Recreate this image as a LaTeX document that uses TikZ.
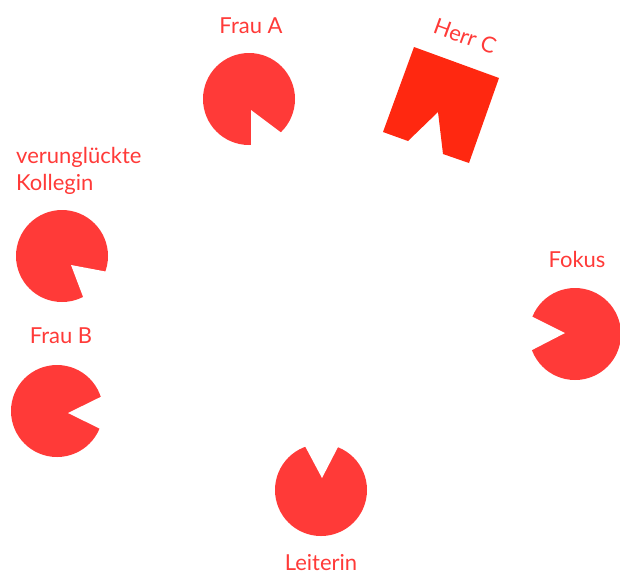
\documentclass[tikz,border=0pt]{standalone}
\usepackage{fontspec}
\setmainfont{Lato}
\usepackage{tikz}
\usetikzlibrary{positioning}
\definecolor{pacred}{RGB}{255,58,56}
\definecolor{boxred}{RGB}{255,40,16}

\begin{document}
\begin{tikzpicture}[
  x=1pt, y=-1pt,
  person/.style={circle, fill=pacred, minimum size=92pt, inner sep=0pt},
  gap/.style={fill=white},
  lbl/.style={text=pacred, inner sep=0pt, font=\fontsize{22}{27}\selectfont}
]
  \useasboundingbox (0,0) rectangle (620,574);

  \node[person] (frauA) at (249,99) {};
  \node[person] (kollegin) at (62,256) {};
  \node[person] (frauB) at (57,411) {};
  \node[person] (leiterin) at (321,490) {};
  \node[person] (fokus) at (575,334) {};

  \fill[gap] (251,110) -- (251,180) -- (307,152) -- cycle;
  \fill[gap] (71,265) -- (140,278) -- (96,331) -- cycle;
  \fill[gap] (68,413) -- (131,382) -- (131,444) -- cycle;
  \fill[gap] (322,478) -- (289,416) -- (354,416) -- cycle;
  \fill[gap] (565,333) -- (503,302) -- (503,365) -- cycle;

  \fill[boxred] (414,47) -- (499,78) -- (469,163) -- (443,154) -- (438,112)
    -- (408,141) -- (383,132) -- cycle;

  \node[lbl, anchor=base] (lblA) at (251,33) {Frau A};
  \node[lbl, rotate=-20] (lblC) at (465,36) {Herr C};
  \node[lbl, anchor=north west, align=left] (lblK) at (16,147) {verunglückte\\Kollegin};
  \node[lbl, anchor=base] (lblB) at (61,343) {Frau B};
  \node[lbl, anchor=base] (lblL) at (321,570) {Leiterin};
  \node[lbl, anchor=base] (lblF) at (577,267) {Fokus};
\end{tikzpicture}
\end{document}
